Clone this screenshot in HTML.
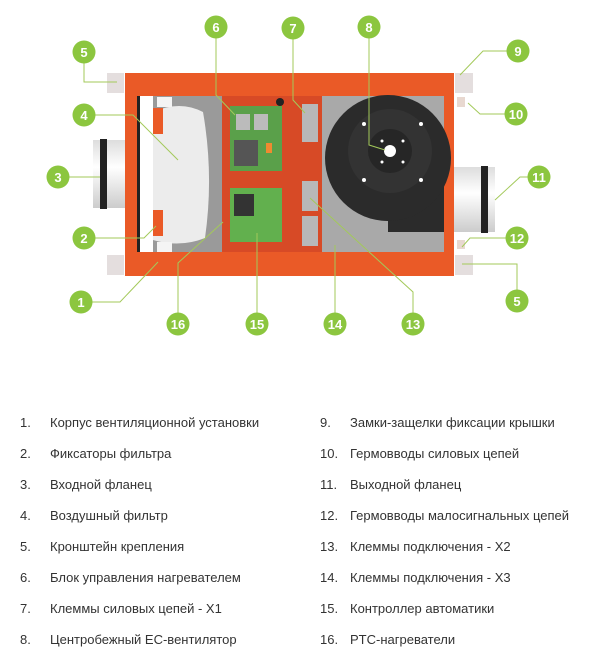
<!DOCTYPE html>
<html><head><meta charset="utf-8"><style>
body{margin:0;background:#fff;width:601px;height:660px;overflow:hidden;font-family:"Liberation Sans",sans-serif}
.r{position:absolute;font-size:13px;color:#333;white-space:nowrap}
</style></head><body>
<svg width="601" height="360" style="position:absolute;left:0;top:0">
<defs>
<linearGradient id="fl2" x1="0" y1="0" x2="0" y2="1"><stop offset="0" stop-color="#ddd"/><stop offset="0.4" stop-color="#fff"/><stop offset="1" stop-color="#ccc"/></linearGradient>
</defs>
<rect x="107" y="73" width="17" height="20" fill="#e4dede"/>
<rect x="107" y="255" width="17" height="20" fill="#e4dede"/>
<rect x="455" y="73" width="18" height="20" fill="#e4dede"/>
<rect x="455" y="255" width="18" height="20" fill="#e4dede"/>
<rect x="457" y="97" width="8" height="10" fill="#e8d8d0"/>
<rect x="457" y="240" width="8" height="9" fill="#e8d8d0"/>
<rect x="93" y="140" width="33" height="68" fill="url(#fl2)"/>
<rect x="100" y="139" width="7" height="70" fill="#222"/>
<rect x="453" y="167" width="42" height="65" fill="url(#fl2)"/>
<rect x="481" y="166" width="7" height="67" fill="#222"/>
<rect x="125" y="73" width="329" height="203" fill="#ea5a27"/>
<rect x="137" y="96" width="307" height="156" fill="#a9a9a9"/>
<rect x="137" y="96" width="16" height="156" fill="#fff"/>
<rect x="137" y="96" width="3" height="156" fill="#222"/>
<rect x="153" y="96" width="69" height="156" fill="#9a9a9a"/>
<path d="M153 112 Q180 100 203 112 Q214 175 205 238 Q180 248 153 240 Z" fill="#ececec"/>
<rect x="153" y="108" width="10" height="26" fill="#ea5a27"/>
<rect x="153" y="210" width="10" height="26" fill="#ea5a27"/>
<rect x="157" y="97" width="15" height="10" fill="#f4f4f4"/>
<rect x="157" y="242" width="15" height="10" fill="#f4f4f4"/>
<rect x="222" y="96" width="100" height="156" fill="#d74a26"/>
<rect x="230" y="106" width="52" height="65" fill="#5aa04a"/>
<rect x="234" y="140" width="24" height="26" fill="#555"/>
<rect x="236" y="114" width="14" height="16" fill="#bbb"/><rect x="254" y="114" width="14" height="16" fill="#bbb"/>
<rect x="266" y="143" width="6" height="10" fill="#f08a30"/>
<rect x="230" y="188" width="52" height="54" fill="#62b04e"/>
<rect x="234" y="194" width="20" height="22" fill="#333"/>
<circle cx="280" cy="102" r="4" fill="#222"/>
<rect x="302" y="104" width="16" height="38" fill="#b8b8b8"/>
<rect x="302" y="181" width="16" height="30" fill="#b8b8b8"/>
<rect x="302" y="216" width="16" height="30" fill="#b8b8b8"/>
<rect x="388" y="165" width="56" height="67" fill="#2b2b2b"/>
<circle cx="388" cy="158" r="63" fill="#2b2b2b"/>
<circle cx="390" cy="151" r="42" fill="#333"/>
<circle cx="390" cy="151" r="22" fill="#262626"/>
<circle cx="390" cy="151" r="6" fill="#fff"/>
<g fill="#fff"><circle cx="364" cy="124" r="2"/><circle cx="421" cy="124" r="2"/><circle cx="364" cy="180" r="2"/><circle cx="421" cy="180" r="2"/><circle cx="382" cy="141" r="1.5"/><circle cx="403" cy="141" r="1.5"/><circle cx="382" cy="162" r="1.5"/><circle cx="403" cy="162" r="1.5"/></g>
<g stroke="#a3c95a" stroke-width="1" fill="none">
<polyline points="84,52 84,82 117,82"/>
<polyline points="84,115 133,115 178,160"/>
<polyline points="58,177 100,177"/>
<polyline points="84,238 144,238 156,226"/>
<polyline points="81,302 120,302 158,262"/>
<polyline points="178,324 178,263 223,222"/>
<polyline points="257,324 257,233"/>
<polyline points="216,27 216,95 235,115"/>
<polyline points="293,28 293,100 305,113"/>
<polyline points="369,27 369,145 385,150"/>
<polyline points="518,51 483,51 460,75"/>
<polyline points="516,114 480,114 468,103"/>
<polyline points="539,177 520,177 495,200"/>
<polyline points="517,238 470,238 462,247"/>
<polyline points="517,301 517,264 462,264"/>
<polyline points="335,324 335,245"/>
<polyline points="413,324 413,292 310,198"/>
</g>
<g fill="#8cc63f"><circle cx="84" cy="52" r="11.5"/><circle cx="84" cy="115" r="11.5"/><circle cx="58" cy="177" r="11.5"/><circle cx="84" cy="238" r="11.5"/><circle cx="81" cy="302" r="11.5"/><circle cx="178" cy="324" r="11.5"/><circle cx="257" cy="324" r="11.5"/><circle cx="216" cy="27" r="11.5"/><circle cx="293" cy="28" r="11.5"/><circle cx="369" cy="27" r="11.5"/><circle cx="518" cy="51" r="11.5"/><circle cx="516" cy="114" r="11.5"/><circle cx="539" cy="177" r="11.5"/><circle cx="517" cy="238" r="11.5"/><circle cx="517" cy="301" r="11.5"/><circle cx="335" cy="324" r="11.5"/><circle cx="413" cy="324" r="11.5"/></g>
<g fill="#fff" font-family="Liberation Sans" font-weight="bold" font-size="13" text-anchor="middle">
<text x="84" y="57">5</text><text x="84" y="120">4</text><text x="58" y="182">3</text><text x="84" y="243">2</text><text x="81" y="307">1</text><text x="178" y="329">16</text><text x="257" y="329">15</text><text x="216" y="32">6</text><text x="293" y="33">7</text><text x="369" y="32">8</text><text x="518" y="56">9</text><text x="516" y="119">10</text><text x="539" y="182">11</text><text x="517" y="243">12</text><text x="517" y="306">5</text><text x="335" y="329">14</text><text x="413" y="329">13</text>
</g>
</svg>
<div class="r" style="left:20px;top:415px">1.</div><div class="r" style="left:50px;top:415px">Корпус вентиляционной установки</div>
<div class="r" style="left:20px;top:446px">2.</div><div class="r" style="left:50px;top:446px">Фиксаторы фильтра</div>
<div class="r" style="left:20px;top:477px">3.</div><div class="r" style="left:50px;top:477px">Входной фланец</div>
<div class="r" style="left:20px;top:508px">4.</div><div class="r" style="left:50px;top:508px">Воздушный фильтр</div>
<div class="r" style="left:20px;top:539px">5.</div><div class="r" style="left:50px;top:539px">Кронштейн крепления</div>
<div class="r" style="left:20px;top:570px">6.</div><div class="r" style="left:50px;top:570px">Блок управления нагревателем</div>
<div class="r" style="left:20px;top:601px">7.</div><div class="r" style="left:50px;top:601px">Клеммы силовых цепей - X1</div>
<div class="r" style="left:20px;top:632px">8.</div><div class="r" style="left:50px;top:632px">Центробежный EC-вентилятор</div>
<div class="r" style="left:320px;top:415px">9.</div><div class="r" style="left:350px;top:415px">Замки-защелки фиксации крышки</div>
<div class="r" style="left:320px;top:446px">10.</div><div class="r" style="left:350px;top:446px">Гермовводы силовых цепей</div>
<div class="r" style="left:320px;top:477px">11.</div><div class="r" style="left:350px;top:477px">Выходной фланец</div>
<div class="r" style="left:320px;top:508px">12.</div><div class="r" style="left:350px;top:508px">Гермовводы малосигнальных цепей</div>
<div class="r" style="left:320px;top:539px">13.</div><div class="r" style="left:350px;top:539px">Клеммы подключения - X2</div>
<div class="r" style="left:320px;top:570px">14.</div><div class="r" style="left:350px;top:570px">Клеммы подключения - X3</div>
<div class="r" style="left:320px;top:601px">15.</div><div class="r" style="left:350px;top:601px">Контроллер автоматики</div>
<div class="r" style="left:320px;top:632px">16.</div><div class="r" style="left:350px;top:632px">PTC-нагреватели</div>
</body></html>
